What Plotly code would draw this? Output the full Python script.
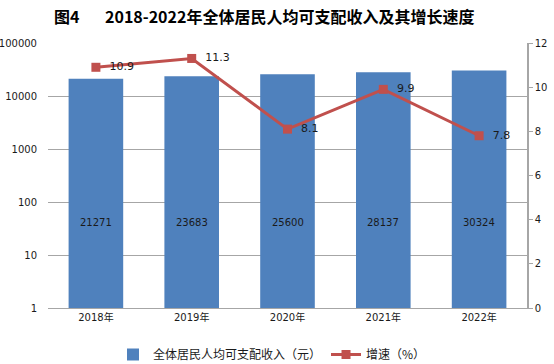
import plotly.graph_objects as go

years = ["2018年", "2019年", "2020年", "2021年", "2022年"]
income = [21271, 23683, 25600, 28137, 30324]
growth = [10.9, 11.3, 8.1, 9.9, 7.8]
left_ticks = [1, 10, 100, 1000, 10000, 100000]
left_ticktext = ["1", "10", "100", "1000", "10000", "100000"]

BLUE = "#4F81BD"
RED = "#C0504D"
GRID = "#A6A6A6"
FONT = "DejaVu Sans, Noto Sans CJK SC"
CJK = "Noto Sans CJK SC"

W, H = 554, 364
ml, mr, mt, mb = 48, 27, 43, 56
pw, ph = W - ml - mr, H - mt - mb


def px_x(x):
    return (x - ml) / pw


def px_y(y):
    return 1 + (mt - y) / ph


fig = go.Figure()
fig.add_trace(go.Bar(
    x=years, y=income, name="全体居民人均可支配收入（元）",
    marker=dict(color=BLUE, line=dict(width=0)), yaxis="y",
))
fig.add_trace(go.Scatter(
    x=years, y=growth, name="增速（%）", yaxis="y2",
    mode="lines+markers+text",
    line=dict(color=RED, width=3),
    marker=dict(symbol="square", size=9, color=RED),
    text=["  " + f"{v:.1f}" for v in growth], textposition="middle right",
    textfont=dict(family=FONT, size=11, color="#1a1a1a"),
    cliponaxis=False,
))

# bar value labels
for yr, v in zip(years, income):
    fig.add_annotation(x=yr, y=0.295, xref="x", yref="y domain", text=str(v),
                       showarrow=False, font=dict(family=FONT, size=10, color="#1a1a1a"))

# title
fig.add_annotation(x=px_x(52), y=px_y(16), xref="paper", yref="paper", text="<b>图4</b>",
                   showarrow=False, xanchor="left", yanchor="middle",
                   font=dict(family=CJK, size=16, color="#000000"))
fig.add_annotation(x=px_x(289), y=px_y(16), xref="paper", yref="paper",
                   text="<b>2018-2022年全体居民人均可支配收入及其增长速度</b>",
                   showarrow=False, xanchor="center", yanchor="middle",
                   font=dict(family=CJK, size=16, color="#000000"))

fig.update_layout(
    width=W, height=H,
    margin=dict(l=ml, r=mr, t=mt, b=mb, autoexpand=False),
    paper_bgcolor="white", plot_bgcolor="white",
    bargap=0.43,
    showlegend=True,
    legend=dict(orientation="h", x=px_x(272), xanchor="center", y=px_y(340), yanchor="top",
                font=dict(family=CJK, size=12, color="#1a1a1a"),
                itemwidth=30, tracegroupgap=0),
    xaxis=dict(showgrid=False, showline=True, linecolor=GRID, linewidth=1,
               ticks="", tickfont=dict(family=FONT, size=10, color="#1a1a1a")),
    yaxis=dict(type="log", range=[0, 5], tickvals=left_ticks, ticktext=left_ticktext,
               showgrid=True, gridcolor=GRID, gridwidth=1, zeroline=False,
               showline=False, ticks="outside", ticklen=8, tickcolor="rgba(0,0,0,0)",
               tickfont=dict(family=FONT, size=10, color="#1a1a1a")),
    yaxis2=dict(overlaying="y", side="right", range=[0, 12], dtick=2,
                showgrid=False, zeroline=False, showline=True, linecolor=GRID, linewidth=1.5,
                ticks="outside", ticklen=4, tickcolor=GRID,
                tickfont=dict(family=FONT, size=10, color="#1a1a1a")),
)

fig.write_html("out.html", config={"displayModeBar": False},
               post_script="document.body.style.margin='0';document.body.style.padding='0';")
